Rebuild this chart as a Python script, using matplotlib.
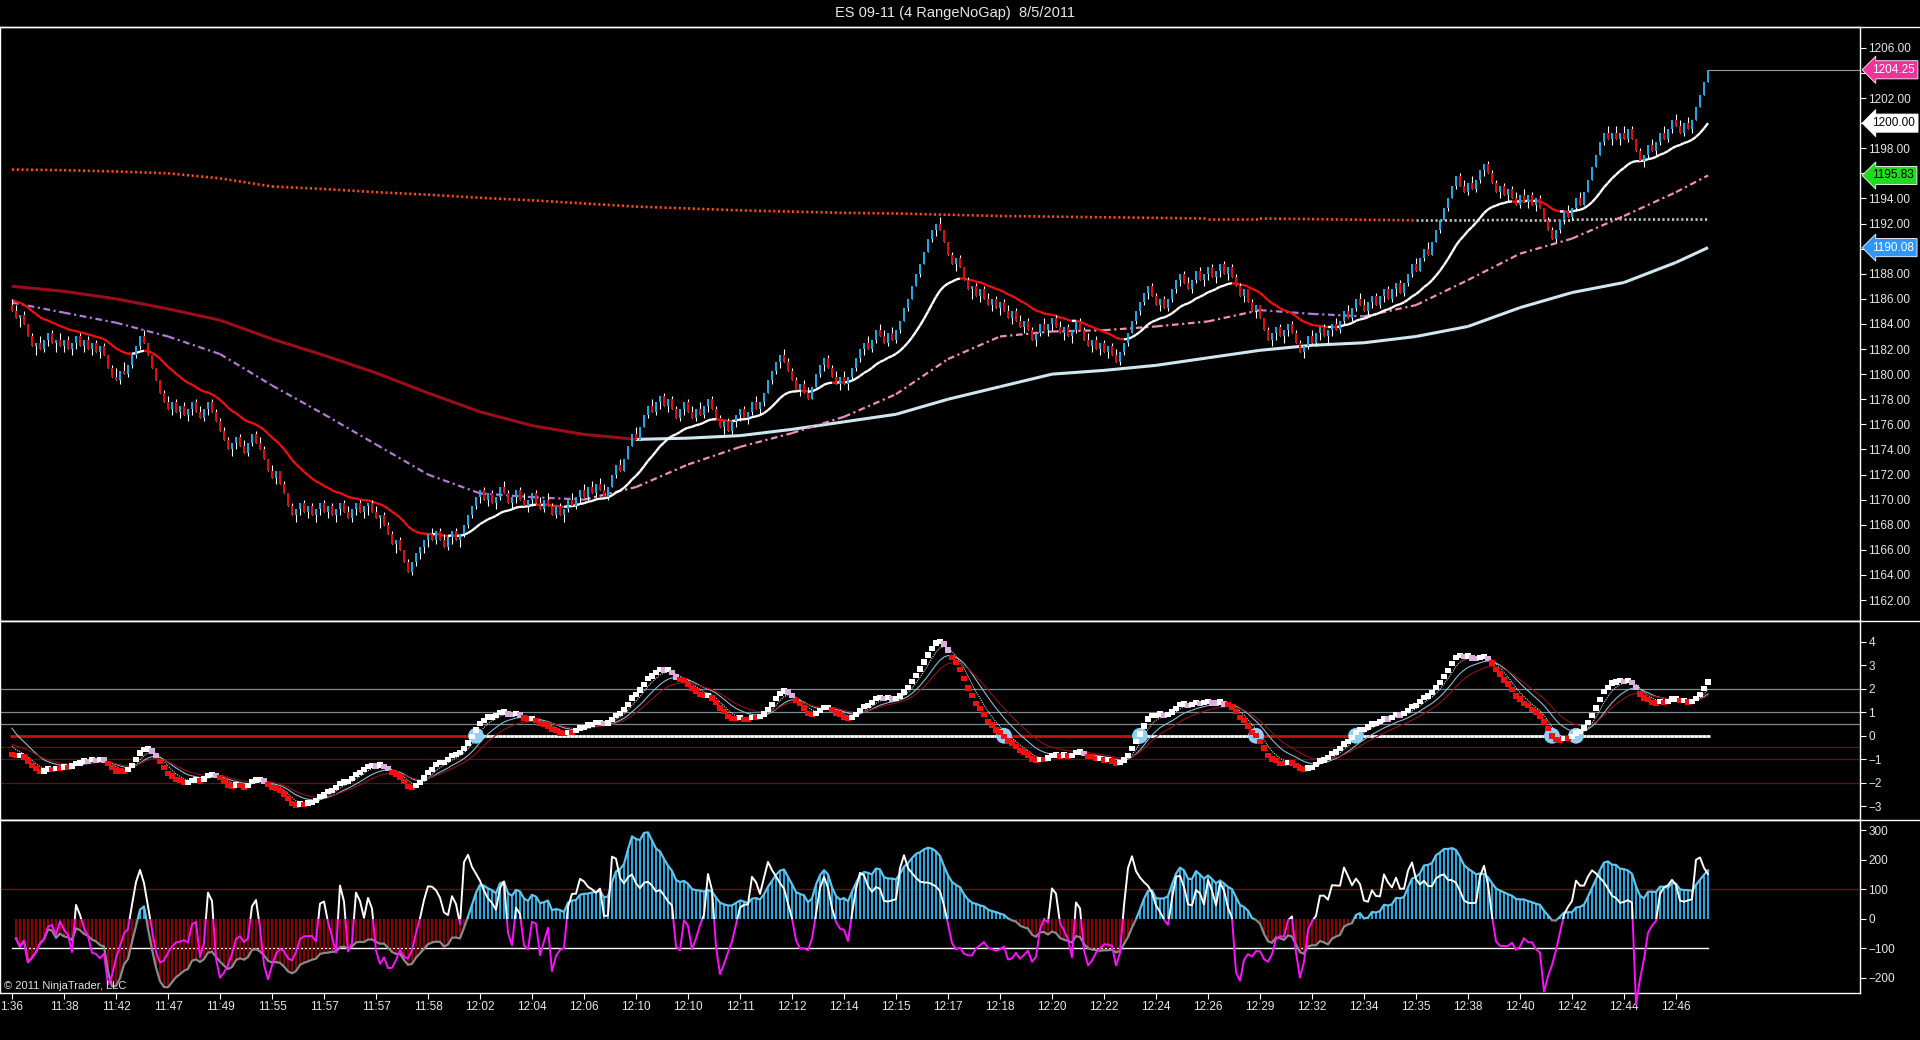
import numpy as np
import pandas as pd
import matplotlib
matplotlib.use("Agg")
import matplotlib.pyplot as plt
from matplotlib.collections import LineCollection
from matplotlib.lines import Line2D
from matplotlib.patches import Rectangle

plt.rcParams['font.family'] = ['Liberation Sans', 'DejaVu Sans']

title = "ES 09-11 (4 RangeNoGap)  8/5/2011"

# range bars, 1 point each (NoGap: every bar opens at the previous close)
range_size = 1.0
first_open = 1185.50
closes = [
    1185.00, 1184.50, 1184.75, 1184.00, 1183.00, 1182.25, 1182.50, 1182.00, 1182.75, 1183.25, 1182.50, 1182.75, 1182.25,
    1182.75, 1182.00, 1182.50, 1183.00, 1182.25, 1182.75, 1182.00, 1182.50, 1181.75, 1182.25, 1181.50, 1180.50, 1179.75,
    1179.50, 1180.25, 1180.00, 1180.75, 1181.50, 1182.25, 1183.00, 1182.50, 1181.50, 1180.50, 1179.50, 1178.50, 1177.75,
    1177.25, 1177.75, 1177.00, 1177.50, 1176.75, 1177.25, 1177.75, 1177.00, 1176.50, 1177.25, 1177.75, 1177.00, 1176.25,
    1175.50, 1174.75, 1174.00, 1174.50, 1175.00, 1174.25, 1173.75, 1174.50, 1175.25, 1174.50, 1174.00, 1173.25, 1172.25,
    1171.75, 1172.25, 1171.25, 1170.50, 1169.50, 1168.75, 1169.25, 1169.75, 1169.00, 1169.50, 1168.75, 1169.25, 1169.75,
    1169.00, 1169.50, 1168.75, 1169.25, 1169.75, 1169.00, 1168.50, 1169.25, 1169.75, 1169.00, 1169.50, 1169.75, 1169.00,
    1168.50, 1168.75, 1168.00, 1167.25, 1166.50, 1166.75, 1166.00, 1165.00, 1164.25, 1165.00, 1165.75, 1166.25, 1166.75,
    1167.25, 1166.75, 1167.50, 1166.75, 1166.25, 1167.00, 1167.50, 1166.75, 1167.25, 1168.00, 1168.75, 1169.50, 1170.25,
    1170.75, 1170.00, 1170.50, 1169.75, 1170.25, 1171.00, 1170.50, 1169.75, 1170.25, 1170.75, 1170.00, 1169.50, 1170.00,
    1170.50, 1169.75, 1169.25, 1170.00, 1169.50, 1168.75, 1169.50, 1168.75, 1169.25, 1170.00, 1169.50, 1170.25, 1170.75,
    1170.25, 1171.00, 1170.50, 1171.25, 1170.75, 1170.25, 1171.00, 1172.00, 1172.75, 1172.25, 1173.25, 1174.25, 1175.25,
    1174.75, 1175.75, 1176.75, 1177.50, 1177.00, 1177.75, 1178.25, 1177.50, 1178.00, 1177.25, 1176.50, 1177.25, 1177.75,
    1177.00, 1176.50, 1177.25, 1176.75, 1177.50, 1178.00, 1177.25, 1176.50, 1175.75, 1176.25, 1175.50, 1176.25, 1176.75,
    1177.25, 1176.50, 1177.00, 1177.75, 1177.25, 1177.75, 1178.50, 1179.50, 1180.25, 1181.00, 1181.50, 1181.00, 1180.25,
    1179.50, 1178.75, 1179.25, 1178.50, 1178.00, 1179.00, 1180.00, 1180.75, 1181.25, 1180.50, 1179.75, 1179.25, 1179.75,
    1179.25, 1179.75, 1180.50, 1181.25, 1182.00, 1182.50, 1182.00, 1182.75, 1183.50, 1183.00, 1182.50, 1183.25, 1182.75,
    1183.50, 1184.25, 1185.25, 1186.00, 1187.00, 1188.00, 1188.75, 1189.75, 1190.75, 1191.50, 1192.00, 1191.50, 1190.50,
    1189.50, 1188.75, 1189.25, 1188.50, 1187.50, 1186.75, 1187.00, 1186.25, 1186.75, 1186.00, 1185.50, 1186.00, 1185.25,
    1185.75, 1185.00, 1184.50, 1185.00, 1184.25, 1183.75, 1184.25, 1183.50, 1182.75, 1183.25, 1184.00, 1183.50, 1184.00,
    1184.50, 1183.75, 1183.25, 1183.75, 1183.00, 1183.50, 1184.25, 1183.50, 1182.75, 1182.25, 1182.75, 1182.00, 1182.50,
    1181.75, 1182.25, 1181.50, 1181.00, 1181.75, 1182.50, 1183.25, 1184.25, 1185.00, 1185.75, 1186.50, 1187.00, 1186.25,
    1185.50, 1186.00, 1185.25, 1186.00, 1186.75, 1187.50, 1188.00, 1187.25, 1186.75, 1187.50, 1188.25, 1187.50, 1188.00,
    1188.50, 1187.75, 1188.25, 1188.75, 1188.00, 1188.50, 1187.75, 1187.00, 1186.25, 1186.75, 1185.75, 1185.00, 1185.50,
    1184.50, 1183.50, 1182.75, 1183.25, 1183.75, 1183.00, 1183.50, 1184.00, 1183.25, 1182.50, 1181.75, 1182.25, 1183.00,
    1182.50, 1183.25, 1183.75, 1183.00, 1183.50, 1184.00, 1183.50, 1184.25, 1185.00, 1184.50, 1185.25, 1186.00, 1185.50,
    1185.00, 1185.75, 1186.25, 1185.50, 1186.25, 1186.75, 1186.00, 1186.75, 1187.25, 1186.50, 1187.25, 1188.00, 1188.75,
    1188.25, 1189.25, 1190.00, 1189.50, 1190.50, 1191.50, 1192.25, 1193.25, 1194.00, 1195.00, 1195.75, 1195.00, 1194.50,
    1195.25, 1194.75, 1195.50, 1196.25, 1196.75, 1196.00, 1195.25, 1194.50, 1195.00, 1194.25, 1194.75, 1194.00, 1193.50,
    1194.25, 1193.75, 1194.25, 1193.50, 1194.00, 1193.25, 1192.25, 1191.50, 1190.75, 1191.50, 1192.25, 1193.00, 1192.50,
    1193.25, 1194.00, 1193.50, 1194.50, 1195.50, 1196.50, 1197.50, 1198.50, 1199.25, 1198.75, 1199.25, 1198.75, 1199.25,
    1198.75, 1199.50, 1198.75, 1197.75, 1197.00, 1197.50, 1198.25, 1197.75, 1198.50, 1199.25, 1198.75, 1199.50, 1200.25,
    1199.75, 1199.25, 1200.00, 1199.50, 1200.25, 1201.25, 1202.25, 1203.25, 1204.25,
]

time_labels = ['1:36', '11:38', '11:42', '11:47', '11:49', '11:55', '11:57', '11:57', '11:58', '12:02',
               '12:04', '12:06', '12:10', '12:10', '12:11', '12:12', '12:14', '12:15', '12:17', '12:18',
               '12:20', '12:22', '12:24', '12:26', '12:29', '12:32', '12:34', '12:35', '12:38', '12:40',
               '12:42', '12:44', '12:46']
bars_per_label = 13

# slow averages need history from before the window -> every 13 bars
ma_bars = [0, 13, 26, 39, 52, 65, 78, 91, 104, 117, 130, 143, 156, 169, 182, 195, 208,
           221, 234, 247, 260, 273, 286, 299, 312, 325, 338, 351, 364, 377, 390, 403, 416, 424]
ma_orange = [1196.30, 1196.25, 1196.15, 1196.00, 1195.60, 1194.95, 1194.75, 1194.50, 1194.30, 1194.05,
             1193.85, 1193.60, 1193.35, 1193.20, 1193.05, 1192.95, 1192.85, 1192.80, 1192.70, 1192.60,
             1192.55, 1192.50, 1192.45, 1192.40, 1192.40, 1192.35, 1192.30, 1192.25, 1192.25, 1192.30,
             1192.30, 1192.35, 1192.35, 1192.35]
ma_long = [1187.0, 1186.6, 1186.0, 1185.2, 1184.3, 1182.8, 1181.5, 1180.1, 1178.5, 1177.0,
           1175.9, 1175.2, 1174.8, 1174.9, 1175.1, 1175.6, 1176.2, 1176.8, 1178.0, 1179.0,
           1180.0, 1180.3, 1180.7, 1181.3, 1181.9, 1182.3, 1182.5, 1183.0, 1183.8, 1185.3,
           1186.5, 1187.3, 1188.9, 1190.08]
ma_mid = [1185.7, 1184.9, 1184.1, 1183.0, 1181.6, 1179.1, 1176.8, 1174.4, 1172.0, 1170.5,
          1170.2, 1170.0, 1171.0, 1172.8, 1174.2, 1175.3, 1176.6, 1178.4, 1181.2, 1183.0,
          1183.4, 1183.5, 1183.8, 1184.2, 1185.1, 1184.8, 1184.6, 1185.5, 1187.5, 1189.6,
          1190.8, 1192.6, 1194.5, 1195.83]

# indicator settings
fast_ema_period, fast_ema_seed = 21, 1186.0
macd_periods = (10, 30)
macd_seeds = (1185.4, 1186.2)
signal_periods = (4, 9, 14)
signal_seeds = (-0.2, 0.6, -0.3)
cci_slow_period = 50
cci_fast_period = 9


def ema(values, period, seed):
    a = 2.0 / (period + 1)
    out = np.empty(len(values))
    prev = seed
    for i, v in enumerate(values):
        prev = prev + a * (v - prev)
        out[i] = prev
    return out


def cci(values, period):
    s = pd.Series(values)
    mean = s.rolling(period, min_periods=2).mean()
    mad = s.rolling(period, min_periods=2).apply(lambda w: np.abs(w - w.mean()).mean(), raw=True)
    out = (s - mean) / (0.015 * mad)
    return out.replace([np.inf, -np.inf], np.nan).to_numpy()


def slope_line(ax, x, y, up_col, down_col, **kw):
    x = np.asarray(x, float)
    y = np.asarray(y, float)
    segs = [[(x[i], y[i]), (x[i + 1], y[i + 1])] for i in range(len(x) - 1)]
    cols = [up_col if y[i + 1] > y[i] else down_col for i in range(len(x) - 1)]
    ax.add_collection(LineCollection(segs, colors=cols, **kw))


def two_tone(ax, x, y, pos_col, neg_col, **kw):
    for col, y0 in ((pos_col, 0), (neg_col, -1e4)):
        ln, = ax.plot(x, y, color=col, **kw)
        ln.set_clip_path(Rectangle((-100, y0), 1e4, 1e4, transform=ax.transData))


c = np.array(closes)
n = len(c)
x = np.arange(n)
o = np.concatenate([[first_open], c[:-1]])
up = c > o
down = c < o
highs = np.where(up, c, np.where(down, c + range_size, c + range_size / 2))
lows = np.where(up, c - range_size, np.where(down, c, c - range_size / 2))

fast_ema = ema(c, fast_ema_period, fast_ema_seed)
macd = ema(c, macd_periods[0], macd_seeds[0]) - ema(c, macd_periods[1], macd_seeds[1])
sig_dot = ema(macd, signal_periods[0], signal_seeds[0])
sig_blue = ema(macd, signal_periods[1], signal_seeds[1])
sig_red = ema(macd, signal_periods[2], signal_seeds[2])

tp = (highs + lows + c) / 3.0
cci_slow = cci(tp, cci_slow_period)
cci_fast = cci(tp, cci_fast_period)

# ---------------- layout (pixel based, 1920x1040) ----------------
W, H = 1920, 1040
fig = plt.figure(figsize=(W / 100, H / 100), dpi=100, facecolor='black')
right_px = 1860


def frame(top, bottom):
    return [0.0, 1 - bottom / H, right_px / W, (bottom - top) / H]


ax_p = fig.add_axes(frame(27, 621))
ax_m = fig.add_axes(frame(621, 820), sharex=ax_p)
ax_c = fig.add_axes(frame(820, 993), sharex=ax_p)

for ax in (ax_p, ax_m, ax_c):
    ax.set_facecolor('black')
    for s in ('left', 'right', 'top', 'bottom'):
        ax.spines[s].set_color('white')
        ax.spines[s].set_linewidth(1.0)
    ax.yaxis.tick_right()
    ax.tick_params(axis='y', colors='white', labelcolor='#e6e6e6', labelsize=8.5,
                   length=4, width=0.8, pad=2, direction='out')
    ax.tick_params(axis='x', bottom=False, labelbottom=False)

ax_p.set_xlim(-3, 462)

# ---------------- price panel ----------------
fast_last = round(fast_ema[-1], 2)
tag_vals = [c[-1], fast_last, ma_mid[-1], ma_long[-1]]
tag_face = ['#f0329a', 'white', '#1fdc1f', '#2f96ff']
tag_text = ['white', 'black', 'black', 'white']

ax_p.set_ylim(1160.33, 1207.66)
price_ticks = np.arange(1162, 1207, 2)
ax_p.set_yticks(price_ticks)
# a tag sitting on a tick hides that tick's label, as on the original chart
ax_p.set_yticklabels(['' if min(abs(t - v) for v in tag_vals) < 1.0 else f"{t:.2f}" for t in price_ticks])

# orange / grey dotted level
mb = np.array(ma_bars)
seg_o = [[(mb[i], ma_orange[i]), (mb[i + 1], ma_orange[i + 1])] for i in range(len(mb) - 1)]
col_o = ['#c8c8c8' if c[mb[i + 1]] > ma_orange[i + 1] else '#ff4a1a' for i in range(len(mb) - 1)]
ax_p.add_collection(LineCollection(seg_o, colors=col_o, linewidths=1.9, linestyles=(0, (0.8, 1.0)), zorder=2))

slope_line(ax_p, ma_bars, ma_long, '#cfe8ef', '#9c0d1c', linewidths=2.2, zorder=2)
slope_line(ax_p, ma_bars, ma_mid, '#ef8fb8', '#b27ad6', linewidths=1.6,
           linestyles=(0, (3, 1.6, 1, 1.6)), zorder=2)
slope_line(ax_p, x, fast_ema, 'white', '#ee1111', linewidths=1.7, zorder=2)

# candles
ax_p.vlines(x, lows, highs, color='white', linewidth=0.8, zorder=3)
body_col = np.where(up, '#21a6e3', np.where(down, '#e00d0d', '#dddddd'))
body_h = np.maximum(np.abs(c - o), 0.08)
ax_p.bar(x, body_h, bottom=np.minimum(o, c), width=0.7, color=body_col, linewidth=0, zorder=4)

# last price line
ax_p.plot([x[-1], ax_p.get_xlim()[1]], [c[-1], c[-1]], color='#9a9a9a', lw=0.8, zorder=2)

# right-hand value tags
ytr = ax_p.get_yaxis_transform()
for v, fc, tc in zip(tag_vals, tag_face, tag_text):
    ax_p.text(1.0065, v, f"{v:.2f}", transform=ytr, ha='left', va='center', fontsize=8.5,
              color=tc, zorder=8, clip_on=False,
              bbox=dict(boxstyle='larrow,pad=0.26', fc=fc, ec='white', lw=0.6))

# ---------------- MACD panel ----------------
ax_m.set_ylim(-3.59, 4.89)
ax_m.set_yticks(np.arange(-3, 5, 1))
for lv in (2, 1, 0.5):
    ax_m.axhline(lv, color='#7d8c93', lw=0.9, zorder=1)
for lv in (-0.5, -1, -2):
    ax_m.axhline(lv, color='#6e0c0c', lw=0.9, zorder=1)

zero_segs = [[(i - 0.5, 0), (i + 0.5, 0)] for i in x]
zero_cols = ['white' if m >= 0 else '#e00d0d' for m in macd]
ax_m.add_collection(LineCollection(zero_segs, colors=zero_cols, linewidths=2.0, zorder=2))

ax_m.plot(x, sig_blue, color='#8fb9cf', lw=0.8, zorder=2)
ax_m.plot(x, sig_dot, color='#d8d8d8', lw=0.8, ls=(0, (1, 1)), zorder=2)
ax_m.plot(x, sig_red, color='#8e1414', lw=0.8, zorder=2)

cross = np.where(np.sign(macd[1:]) != np.sign(macd[:-1]))[0] + 1
ax_m.scatter(cross, np.zeros(len(cross)), s=130, color='#8fd0f4', edgecolors='none', zorder=3)

rising = np.concatenate([[False], macd[1:] > macd[:-1]])
sq_col = np.where(rising, 'white', np.where(macd > sig_blue, '#dcb0dc', '#f01010'))
ax_m.scatter(x, macd, marker='s', s=15, c=sq_col, edgecolors='none', zorder=4)

# ---------------- CCI panel ----------------
ax_c.set_ylim(-251, 334)
ax_c.set_yticks(np.arange(-200, 301, 100))
ax_c.axhline(100, color='#7a0b0b', lw=1.0, zorder=1)
ax_c.plot([x[0], x[-1]], [-100, -100], color='white', lw=1.0, zorder=1)

hist_col = np.where(cci_slow >= 0, '#1fa8e2', '#8c0000')
ax_c.bar(x, np.nan_to_num(cci_slow), width=0.72, color=hist_col, linewidth=0, zorder=2)
two_tone(ax_c, x, cci_slow, '#63c3ea', '#8a8a8a', lw=1.6, zorder=3)
two_tone(ax_c, x, cci_fast, 'white', '#ff10ff', lw=1.4, zorder=4)

tick_pos = np.arange(len(time_labels)) * bars_per_label
ax_c.set_xticks(tick_pos)
ax_c.set_xticklabels(time_labels)
ax_c.tick_params(axis='x', bottom=True, labelbottom=True, colors='white', labelcolor='#e6e6e6',
                 labelsize=8.5, length=4, width=0.8, pad=1.5, direction='out')
ax_c.text(0.002, 0.012, '\u00a9 2011 NinjaTrader, LLC', transform=ax_c.transAxes,
          fontsize=8, color='#e6e6e6', ha='left', va='bottom', zorder=6)

# separators running the full width and the title
for yy in (27, 621, 820):
    fig.add_artist(Line2D([0, 1], [1 - yy / H] * 2, transform=fig.transFigure, color='white', lw=1.0))
fig.text(955 / W, 1 - 13 / H, title, ha='center', va='center', fontsize=10.5, color='#e8e8e8')

fig.savefig('out.png', dpi=100, facecolor='black')
